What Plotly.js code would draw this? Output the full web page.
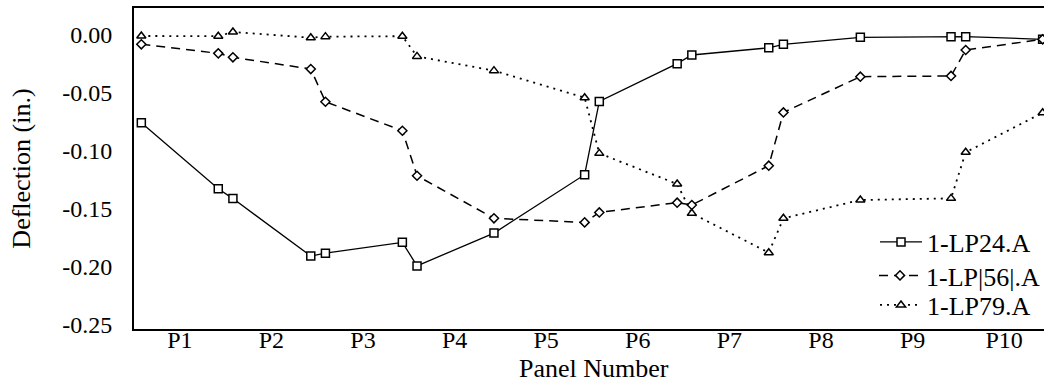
<!DOCTYPE html>
<html>
<head>
<meta charset="utf-8">
<script src="https://cdn.plot.ly/plotly-3.0.1.min.js"></script>
<style>
html,body{margin:0;padding:0;background:#fff;overflow:hidden;}
#chart{width:1045px;height:388px;}
</style>
</head>
<body>
<div id="chart"></div>
<script>
// Panel positions (panel i centred at i-0.5)
const xPos = [0.08, 0.92, 1.08, 1.93, 2.09, 2.93, 3.09, 3.93, 4.92, 5.08, 5.93, 6.09, 6.93, 7.09, 7.93, 8.92, 9.08, 9.92];

const lp24 = [-0.0756, -0.1325, -0.141, -0.1905, -0.188, -0.1787, -0.199, -0.1707, -0.1204, -0.0572,
              -0.0247, -0.0172, -0.011, -0.008, -0.002, -0.0014, -0.0014, -0.0037];
const lp56 = [-0.008, -0.0158, -0.0192, -0.0293, -0.0575, -0.0825, -0.1213, -0.158, -0.1615, -0.1529,
              -0.1445, -0.1465, -0.1126, -0.0667, -0.0359, -0.0353, -0.0129, -0.0037];
const lp79 = [-0.0008, -0.001, 0.0026, -0.0023, -0.0014, -0.001, -0.0184, -0.0307, -0.054, -0.102,
              -0.1284, -0.1537, -0.1876, -0.158, -0.1422, -0.1408, -0.1011, -0.067];

const seriesNames = ['1-LP24.A', '1-LP|56|.A', '1-LP79.A'];

const xTickVals = [0.5, 1.5, 2.5, 3.5, 4.5, 5.5, 6.5, 7.5, 8.5, 9.5];
const xTickText = ['P1', 'P2', 'P3', 'P4', 'P5', 'P6', 'P7', 'P8', 'P9', 'P10'];
const yTickVals = [0, -0.05, -0.10, -0.15, -0.20, -0.25];
const yTickText = ['0.00', '-0.05', '-0.10', '-0.15', '-0.20', '-0.25'];
const xTitle = 'Panel Number';
const yTitle = 'Deflection (in.)';

const FONT = 'Liberation Serif';

const traces = [
  {x: xPos, y: lp24, name: seriesNames[0], mode: 'lines+markers', legend: 'legend',
   line: {color: '#000', width: 1.3},
   marker: {symbol: 'square', size: 8, color: '#fff', line: {color: '#000', width: 1.5}}},
  {x: xPos, y: lp56, name: seriesNames[1], mode: 'lines+markers', legend: 'legend2',
   line: {color: '#000', width: 1.5, dash: '9px,6px'},
   marker: {symbol: 'diamond', size: 7, color: '#fff', line: {color: '#000', width: 1.5}}},
  {x: xPos, y: lp79, name: seriesNames[2], mode: 'lines+markers', legend: 'legend3',
   line: {color: '#000', width: 1.8, dash: '2px,5px'},
   marker: {symbol: 'triangle-up', size: 8, color: '#fff', line: {color: '#000', width: 1.5}}}
];

function leg(y) {
  return {x: 0.8134, y: y, xanchor: 'left', yanchor: 'middle', bgcolor: 'rgba(0,0,0,0)',
          itemwidth: 42, font: {family: FONT, size: 26, color: '#000'}};
}

const layout = {
  width: 1045, height: 388,
  margin: {l: 134, r: 0, t: 8, b: 59},
  paper_bgcolor: '#fff', plot_bgcolor: '#fff',
  font: {family: FONT, size: 24, color: '#000'},
  showlegend: true,
  legend: leg(0.271),
  legend2: leg(0.1667),
  legend3: leg(0.0747),
  xaxis: {
    range: [0, 9.935], showgrid: false, zeroline: false,
    showline: true, linecolor: '#000', linewidth: 2, mirror: true,
    tickmode: 'array', tickvals: xTickVals, ticktext: xTickText, ticks: '',
    ticklabelstandoff: -12,
    tickfont: {family: FONT, size: 24, color: '#000'}
  },
  yaxis: {
    range: [-0.2534, 0.0233], showgrid: false, zeroline: false,
    showline: true, linecolor: '#000', linewidth: 2, mirror: false,
    tickmode: 'array', tickvals: yTickVals, ticktext: yTickText, ticks: '',
    ticklabelstandoff: 15,
    tickfont: {family: FONT, size: 24, color: '#000'},
    title: {text: yTitle, font: {family: FONT, size: 26, color: '#000'}, standoff: 24}
  },
  annotations: [{
    text: xTitle, xref: 'paper', yref: 'paper', x: 0.506, y: -0.1246,
    xanchor: 'center', yanchor: 'middle', showarrow: false,
    font: {family: FONT, size: 26, color: '#000'}
  }]
};

Plotly.newPlot('chart', traces, layout, {displayModeBar: false, staticPlot: true});
</script>
</body>
</html>
